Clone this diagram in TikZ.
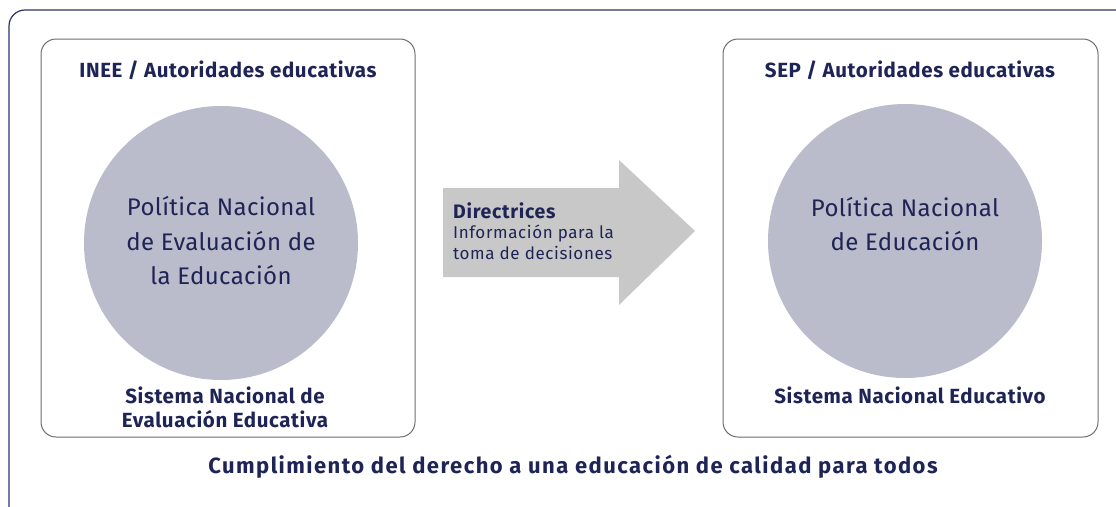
\documentclass[tikz,border=0pt]{standalone}
\usepackage{fontspec}
\setmainfont{Fira Sans}
\definecolor{navy}{HTML}{1F2456}
\definecolor{frame}{HTML}{2E3468}
\definecolor{boxline}{HTML}{6E6E6E}
\definecolor{circ}{HTML}{BABBCB}
\definecolor{arrowgray}{HTML}{C8C8C8}
\begin{document}
\begin{tikzpicture}[x=1pt,y=-1pt,
  panel/.style={draw=boxline, line width=1pt, rounded corners=15pt},
  disc/.style={circle, fill=circ, minimum size=274pt, inner sep=0pt},
  head/.style={text=navy, font=\bfseries\fontsize{20.5}{24}\selectfont\addfontfeatures{LetterSpace=3}, align=center, inner sep=0pt},
  foot/.style={text=navy, font=\bfseries\fontsize{22}{26}\selectfont\addfontfeatures{LetterSpace=6.6}, align=center, inner sep=0pt},
  inner/.style={text=navy, font=\fontsize{24}{34.5}\selectfont\addfontfeatures{LetterSpace=1.5}, align=center, inner sep=0pt}
]
\useasboundingbox (0,0) rectangle (1116,506);
\fill[white] (0,0) rectangle (1116,506);
% outer frame (extends beyond the visible area)
\draw[frame, line width=1.2pt, rounded corners=16pt] (9,10) rectangle (1150,540);
% panels
\draw[panel] (41,39) rectangle (415,437);
\draw[panel] (723,39) rectangle (1098,437);
% circles
\node[disc] (c1) at (221,243) {};
\node[disc] (c2) at (905,241) {};
\node[inner] (t1) at (221,241) {Política Nacional\\de Evaluación de\\la Educación};
\node[inner] (t2) at (905,224) {Política Nacional\\de Educación};
% headings
\node[head] (h1) at (228,70) {INEE / Autoridades educativas};
\node[head] (h2) at (910,70) {SEP / Autoridades educativas};
\node[head] (s1) at (225,407) {Sistema Nacional de\\Evaluación Educativa};
\node[head] (s2) at (910,395) {Sistema Nacional Educativo};
% arrow
\fill[arrowgray] (443,188) -- (619,188) -- (619,160) -- (695,231) -- (619,305) -- (619,277) -- (443,277) -- cycle;
\node[anchor=north west, inner sep=0pt, align=left, text=navy,
  font=\fontsize{17}{20.5}\selectfont\addfontfeatures{LetterSpace=3.5}] (a) at (453,202)
  {{\bfseries\fontsize{19.5}{20.5}\selectfont Directrices}\\
   Información para la\\
   toma de decisiones};
% bottom line
\node[foot] (b) at (573,467) {Cumplimiento del derecho a una educación de calidad para todos};
\end{tikzpicture}
\end{document}
